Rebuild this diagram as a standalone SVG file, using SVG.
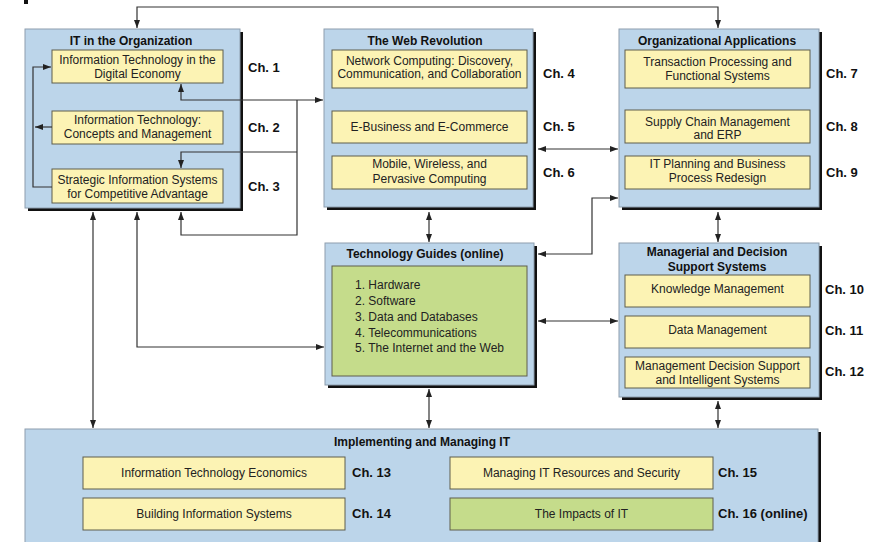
<svg xmlns="http://www.w3.org/2000/svg" width="883" height="542" viewBox="0 0 883 542">
  <style>
    .panel { fill: #bcd5ea; stroke: #8e9eae; stroke-width: 1; }
    .shadow { fill: #111; }
    .item { fill: #fcf3b4; stroke: #5e5e4c; stroke-width: 1; }
    .green { fill: #c5dc8b; stroke: #5e5e4c; stroke-width: 1; }
    .title { font-family: "Liberation Sans", Arial, sans-serif; font-size: 12px; font-weight: bold; fill: #111; text-anchor: middle; }
    .txt { font-family: "Liberation Sans", Arial, sans-serif; font-size: 12px; fill: #222; text-anchor: middle; }
    .list { font-family: "Liberation Sans", Arial, sans-serif; font-size: 12px; fill: #222; }
    .ch { font-family: "Liberation Sans", Arial, sans-serif; font-size: 13px; font-weight: bold; fill: #111; }
    .link { fill: none; stroke: #333; stroke-width: 1.2; }
  </style>
  <defs>
    <marker id="arrow" markerUnits="userSpaceOnUse" markerWidth="8" markerHeight="6" refX="8" refY="3" orient="auto-start-reverse">
      <path d="M0,0 L8,3 L0,6 z" fill="#222"/>
    </marker>
  </defs>

  <rect width="883" height="542" fill="#fff"/>
  <rect x="24" y="0" width="4" height="4" fill="#111"/>

  <!-- IT in the Organization -->
  <g id="it-organization">
    <rect class="shadow" x="28" y="32" width="215" height="179"/>
    <rect class="panel" x="25" y="29" width="215" height="179"/>
    <text class="title" x="131" y="45">IT in the Organization</text>
    <rect class="item" x="52" y="50" width="171" height="33"/>
    <text class="txt" x="137.5" y="64">Information Technology in the</text>
    <text class="txt" x="137.5" y="78">Digital Economy</text>
    <rect class="item" x="52" y="111" width="171" height="33"/>
    <text class="txt" x="137.5" y="124">Information Technology:</text>
    <text class="txt" x="137.5" y="138">Concepts and Management</text>
    <rect class="item" x="52" y="169" width="171" height="34"/>
    <text class="txt" x="137.5" y="184">Strategic Information Systems</text>
    <text class="txt" x="137.5" y="198">for Competitive Advantage</text>
    <text class="ch" x="248" y="72">Ch. 1</text>
    <text class="ch" x="248" y="132">Ch. 2</text>
    <text class="ch" x="248" y="191">Ch. 3</text>
  </g>

  <!-- The Web Revolution -->
  <g id="web-revolution">
    <rect class="shadow" x="327" y="32" width="209" height="178"/>
    <rect class="panel" x="324" y="29" width="209" height="178"/>
    <text class="title" x="425" y="45">The Web Revolution</text>
    <rect class="item" x="332" y="50" width="195" height="38"/>
    <text class="txt" x="429.5" y="65">Network Computing: Discovery,</text>
    <text class="txt" x="429.5" y="78">Communication, and Collaboration</text>
    <rect class="item" x="332" y="111" width="195" height="32"/>
    <text class="txt" x="429.5" y="131">E-Business and E-Commerce</text>
    <rect class="item" x="332" y="156" width="195" height="33"/>
    <text class="txt" x="429.5" y="168">Mobile, Wireless, and</text>
    <text class="txt" x="429.5" y="183">Pervasive Computing</text>
    <text class="ch" x="543" y="78">Ch. 4</text>
    <text class="ch" x="543" y="131">Ch. 5</text>
    <text class="ch" x="543" y="177">Ch. 6</text>
  </g>

  <!-- Organizational Applications -->
  <g id="org-applications">
    <rect class="shadow" x="622" y="32" width="200" height="178"/>
    <rect class="panel" x="619" y="29" width="200" height="178"/>
    <text class="title" x="717" y="45">Organizational Applications</text>
    <rect class="item" x="625" y="50" width="185" height="38"/>
    <text class="txt" x="717.5" y="66">Transaction Processing and</text>
    <text class="txt" x="717.5" y="80">Functional Systems</text>
    <rect class="item" x="625" y="110" width="185" height="33"/>
    <text class="txt" x="717.5" y="126">Supply Chain Management</text>
    <text class="txt" x="717.5" y="139">and ERP</text>
    <rect class="item" x="625" y="156" width="185" height="33"/>
    <text class="txt" x="717.5" y="168">IT Planning and Business</text>
    <text class="txt" x="717.5" y="182">Process Redesign</text>
    <text class="ch" x="826" y="78">Ch. 7</text>
    <text class="ch" x="826" y="131">Ch. 8</text>
    <text class="ch" x="826" y="177">Ch. 9</text>
  </g>

  <!-- Technology Guides -->
  <g id="technology-guides">
    <rect class="shadow" x="328" y="246" width="209" height="142"/>
    <rect class="panel" x="325" y="243" width="209" height="142"/>
    <text class="title" x="425" y="258">Technology Guides (online)</text>
    <rect class="green" x="332" y="266" width="195" height="110"/>
    <text class="list" x="355" y="289">1. Hardware</text>
    <text class="list" x="355" y="305">2. Software</text>
    <text class="list" x="355" y="321">3. Data and Databases</text>
    <text class="list" x="355" y="337">4. Telecommunications</text>
    <text class="list" x="355" y="352">5. The Internet and the Web</text>
  </g>

  <!-- Managerial and Decision Support Systems -->
  <g id="managerial-dss">
    <rect class="shadow" x="622" y="246" width="200" height="154"/>
    <rect class="panel" x="619" y="243" width="200" height="154"/>
    <text class="title" x="717" y="256">Managerial and Decision</text>
    <text class="title" x="717" y="271">Support Systems</text>
    <rect class="item" x="625" y="275" width="185" height="32"/>
    <text class="txt" x="717.5" y="293">Knowledge Management</text>
    <rect class="item" x="625" y="316" width="185" height="32"/>
    <text class="txt" x="717.5" y="334">Data Management</text>
    <rect class="item" x="625" y="357" width="185" height="31"/>
    <text class="txt" x="717.5" y="370">Management Decision Support</text>
    <text class="txt" x="717.5" y="384">and Intelligent Systems</text>
    <text class="ch" x="825" y="294">Ch. 10</text>
    <text class="ch" x="825" y="335">Ch. 11</text>
    <text class="ch" x="825" y="376">Ch. 12</text>
  </g>

  <!-- Implementing and Managing IT -->
  <g id="implementing-managing">
    <rect class="shadow" x="28" y="432" width="793" height="115"/>
    <rect class="panel" x="25" y="429" width="793" height="115"/>
    <text class="title" x="422" y="446">Implementing and Managing IT</text>
    <rect class="item" x="83" y="457" width="262" height="32"/>
    <text class="txt" x="214" y="477">Information Technology Economics</text>
    <rect class="item" x="83" y="498" width="262" height="32"/>
    <text class="txt" x="214" y="518">Building Information Systems</text>
    <rect class="item" x="450" y="457" width="263" height="32"/>
    <text class="txt" x="581.5" y="477">Managing IT Resources and Security</text>
    <rect class="green" x="450" y="498" width="263" height="32"/>
    <text class="txt" x="581.5" y="518">The Impacts of IT</text>
    <text class="ch" x="352" y="477">Ch. 13</text>
    <text class="ch" x="352" y="518">Ch. 14</text>
    <text class="ch" x="718" y="477">Ch. 15</text>
    <text class="ch" x="718" y="518">Ch. 16 (online)</text>
  </g>

  <!-- Connectors -->
  <g id="connectors" class="link">
    <path d="M718,28 V7 H137 V28" marker-start="url(#arrow)" marker-end="url(#arrow)"/>
    <path d="M52,187 H33 V67 H51" marker-end="url(#arrow)"/>
    <path d="M52,127 H35" marker-end="url(#arrow)"/>
    <path d="M181,84 V100 H323" marker-start="url(#arrow)" marker-end="url(#arrow)"/>
    <path d="M297,100 V235 H181 V212" marker-end="url(#arrow)"/>
    <path d="M297,152 H181 V168" marker-end="url(#arrow)"/>
    <path d="M538,149 H618" marker-start="url(#arrow)" marker-end="url(#arrow)"/>
    <path d="M618,198 H592 V254 H538" marker-start="url(#arrow)" marker-end="url(#arrow)"/>
    <path d="M429,212 V242" marker-start="url(#arrow)" marker-end="url(#arrow)"/>
    <path d="M718,212 V242" marker-start="url(#arrow)" marker-end="url(#arrow)"/>
    <path d="M137,212 V347 H324" marker-start="url(#arrow)" marker-end="url(#arrow)"/>
    <path d="M93,212 V428" marker-start="url(#arrow)" marker-end="url(#arrow)"/>
    <path d="M538,321 H618" marker-start="url(#arrow)" marker-end="url(#arrow)"/>
    <path d="M429,389 V428" marker-start="url(#arrow)" marker-end="url(#arrow)"/>
    <path d="M718,401 V428" marker-start="url(#arrow)" marker-end="url(#arrow)"/>
  </g>
</svg>
